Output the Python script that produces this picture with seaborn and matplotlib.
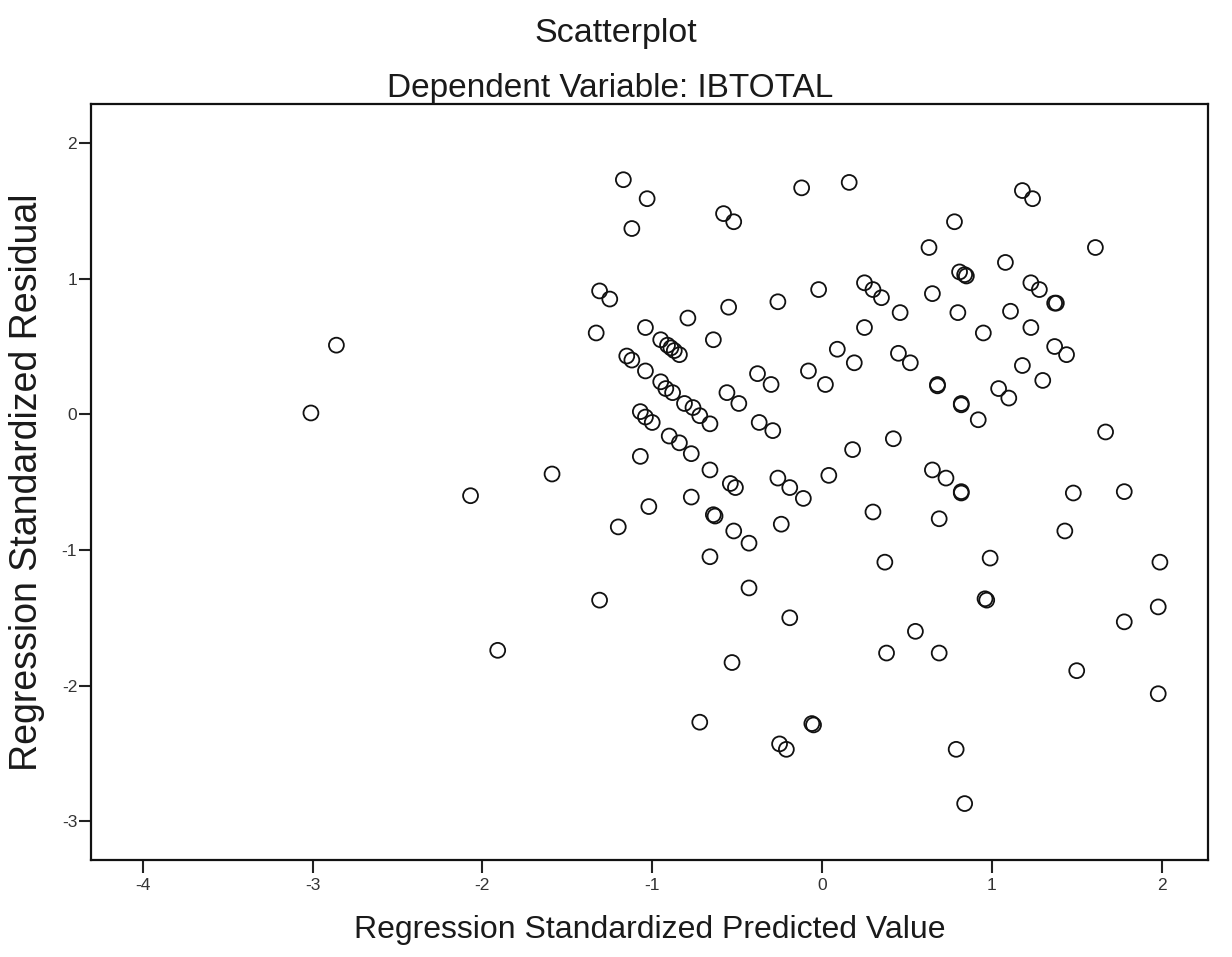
import matplotlib
matplotlib.use("Agg")
import matplotlib.pyplot as plt
import seaborn as sns
import pandas as pd

# Regression standardized predicted value (x) and standardized residual (y)
predicted = [
    -3.01, -2.86, -2.07, -1.59, -1.91, -1.17, -1.03, -1.12, -0.58, -0.52,
    -0.12, -1.31, -1.25, -1.33, -1.04, -0.79, -0.55, -0.26, -0.02, -0.64,
    -0.95, -0.91, -0.89, -0.87, -0.84, -1.15, -1.12, -1.04, -0.95, -0.92,
    -0.88, -0.81, -0.76, -0.72, -0.66, -1.07, -1.04, -1.00, -0.90, -0.84,
    -0.77, -1.07, -0.66, -0.56, -0.49, -0.38, -0.30, -0.37, -0.29, -0.08,
    0.02, -0.26, 0.04, -0.54, -0.51, -0.19, -0.11, -0.77, -1.02, -1.20,
    -0.64, -0.63, -0.52, -0.43, -0.24, -0.66, -0.43, -1.31, -0.19, -0.53,
    -0.72, -0.25, -0.21, -0.05, -0.06, 0.16, 0.78, 0.63, 1.18, 1.24,
    1.08, 0.25, 0.30, 0.35, 0.46, 0.65, 0.81, 0.85, 0.84, 0.80,
    0.95, 1.11, 1.23, 1.18, 0.25, 0.09, 0.19, 0.45, 0.52, 0.68,
    0.68, 0.82, 0.82, 0.92, 1.04, 1.10, 0.42, 0.18, 0.65, 0.73,
    0.82, 0.82, 0.30, 0.69, 0.37, 0.99, 0.97, 0.96, 0.55, 0.38,
    0.69, 0.79, 0.84, 1.61, 1.23, 1.28, 1.38, 1.37, 1.37, 1.44,
    1.30, 1.67, 1.48, 1.78, 1.43, 1.99, 1.98, 1.78, 1.50, 1.98,
]
residual = [
    0.01, 0.51, -0.60, -0.44, -1.74, 1.73, 1.59, 1.37, 1.48, 1.42,
    1.67, 0.91, 0.85, 0.60, 0.64, 0.71, 0.79, 0.83, 0.92, 0.55,
    0.55, 0.51, 0.49, 0.47, 0.44, 0.43, 0.40, 0.32, 0.24, 0.19,
    0.16, 0.08, 0.05, -0.01, -0.07, 0.02, -0.02, -0.06, -0.16, -0.21,
    -0.29, -0.31, -0.41, 0.16, 0.08, 0.30, 0.22, -0.06, -0.12, 0.32,
    0.22, -0.47, -0.45, -0.51, -0.54, -0.54, -0.62, -0.61, -0.68, -0.83,
    -0.74, -0.75, -0.86, -0.95, -0.81, -1.05, -1.28, -1.37, -1.50, -1.83,
    -2.27, -2.43, -2.47, -2.29, -2.28, 1.71, 1.42, 1.23, 1.65, 1.59,
    1.12, 0.97, 0.92, 0.86, 0.75, 0.89, 1.05, 1.02, 1.03, 0.75,
    0.60, 0.76, 0.64, 0.36, 0.64, 0.48, 0.38, 0.45, 0.38, 0.21,
    0.22, 0.07, 0.08, -0.04, 0.19, 0.12, -0.18, -0.26, -0.41, -0.47,
    -0.58, -0.57, -0.72, -0.77, -1.09, -1.06, -1.37, -1.36, -1.60, -1.76,
    -1.76, -2.47, -2.87, 1.23, 0.97, 0.92, 0.82, 0.82, 0.50, 0.44,
    0.25, -0.13, -0.58, -0.57, -0.86, -1.09, -1.42, -1.53, -1.89, -2.06,
]

x_ticks = [-4, -3, -2, -1, 0, 1, 2]
y_ticks = [-3, -2, -1, 0, 1, 2]
main_title = "Scatterplot"
sub_title = "Dependent Variable: IBTOTAL"
x_label = "Regression Standardized Predicted Value"
y_label = "Regression Standardized Residual"

sns.set_theme(style="white")
plt.rcParams["font.family"] = ["Liberation Sans", "DejaVu Sans"]

df = pd.DataFrame({"pred": predicted, "resid": residual})

fig = plt.figure(figsize=(12.32, 9.57), dpi=100)
ax = fig.add_axes([0.0739, 0.1015, 0.9066, 0.7898])

sns.scatterplot(data=df, x="pred", y="resid", ax=ax, marker="o", s=115,
                facecolor="none", edgecolor="#111111", linewidth=1.3)

ax.set_xlim(-4.305, 2.273)
ax.set_ylim(-3.285, 2.288)
ax.set_xticks(x_ticks)
ax.set_yticks(y_ticks)
ax.set_xticklabels([str(t) for t in x_ticks])
ax.set_yticklabels([str(t) for t in y_ticks])

for sp in ax.spines.values():
    sp.set_visible(True)
    sp.set_color("#111111")
    sp.set_linewidth(1.6)

ax.tick_params(axis="both", which="major", direction="out", length=9,
               width=1.5, color="#222222", labelsize=12.5, labelcolor="#333333",
               bottom=True, left=True)
ax.tick_params(axis="y", pad=1)
ax.tick_params(axis="x", pad=4)

ax.set_xlabel(x_label, fontsize=23, color="#1a1a1a", labelpad=16)
ax.set_ylabel(y_label, fontsize=27, color="#1a1a1a", labelpad=12)

fig.text(0.495, 0.908, sub_title, ha="center", va="center", fontsize=24,
         color="#1a1a1a")
fig.text(0.5, 0.965, main_title, ha="center", va="center", fontsize=24.5,
         color="#1a1a1a")

fig.savefig("out.png", dpi=100, facecolor="white")
